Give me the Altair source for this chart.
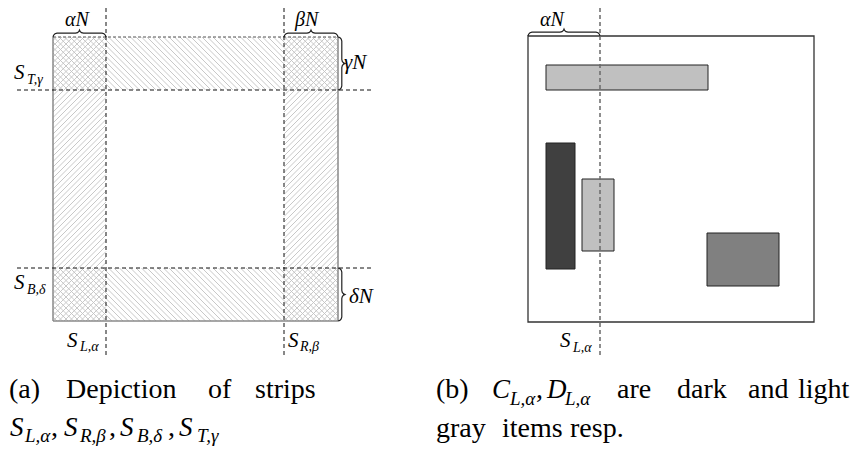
import altair as alt
import pandas as pd
import numpy as np

# ---------------- data (page pixel coordinates) ----------------
# left panel: square and strip boundaries
sq_left = [53, 338, 37, 321]          # x0, x1, y0, y1
strip_names = ["S_L", "S_R", "S_T", "S_B"]
strip_x0 = [53, 284, 53, 53]
strip_x1 = [106, 338, 338, 338]
strip_y0 = [37, 37, 37, 268]
strip_y1 = [321, 321, 90, 321]
strip_hatch = ["/", "/", "\\", "\\"]

# dashed guide lines (left panel, black)
dash_x0 = [106, 284, 17, 17]
dash_x1 = [106, 284, 373, 373]
dash_y0 = [8, 8, 90, 268]
dash_y1 = [357, 357, 90, 268]

# dashed guide line (right panel, gray)
gdash_x0 = [600]
gdash_x1 = [600]
gdash_y0 = [8]
gdash_y1 = [357]

# right panel square
sq_right = [528, 814, 36, 322]

# right panel items
item_x0 = [546, 546, 582, 707]
item_x1 = [708, 575, 614, 779]
item_y0 = [65, 143, 179, 233]
item_y1 = [90, 269, 251, 286]
item_fill = ["#c0c0c0", "#404040", "#c0c0c0", "#808080"]

# braces: start, end, base, orientation ("up" or "right")
brace_a = [53, 284, 37, 268, 528]
brace_b = [106, 338, 90, 321, 600]
brace_base = [37, 37, 338, 338, 36]
brace_dir = ["up", "up", "right", "right", "up"]

# italic (math) text: string, x, baseline y, font size
it_text = ["αN", "βN", "γN", "δN",
           "S", "T,γ", "S", "B,δ", "S", "L,α", "S", "R,β",
           "αN", "S", "L,α",
           "S", "L,α", "S", "R,β", "S", "B,δ", "S", "T,γ",
           "C", "L,α", "D", "L,α"]
it_x = [65, 295, 344, 349,
        14, 27, 14, 27, 67, 80, 288, 300,
        540, 560, 573,
        10, 25, 64, 80, 120, 137, 179, 197,
        492, 510, 547, 565]
it_y = [26, 26, 69, 303,
        79, 84, 289, 294, 347, 351, 347, 351,
        26, 347, 352,
        436, 442, 436, 442, 436, 442, 436, 442,
        398, 405, 398, 405]
it_size = [20, 20, 21, 21,
           21, 14, 21, 14, 21, 14, 21, 14,
           20, 21, 14,
           27, 19, 27, 19, 27, 19, 27, 19,
           27, 19, 27, 19]

# roman text (captions)
rm_text = ["(a)", "Depiction", "of", "strips", ",", ",", ",",
           "(b)", ",", "are", "dark", "and", "light",
           "gray", "items", "resp."]
rm_x = [9, 66, 208, 255, 51, 109, 168,
        436, 536, 617, 677, 748, 798,
        436, 502, 570]
rm_y = [398, 398, 398, 398, 436, 436, 436,
        398, 398, 398, 398, 398, 398,
        437, 437, 437]
rm_size = [28] * len(rm_text)

# ---------------- scales ----------------
XS = alt.Scale(domain=[8, 853], nice=False, zero=False)
YS = alt.Scale(domain=[8, 447], nice=False, zero=False, reverse=True)


def X(f):
    return alt.X(f, type="quantitative", scale=XS, axis=None)


def Y(f):
    return alt.Y(f, type="quantitative", scale=YS, axis=None)


def X2(f):
    return alt.X2(f)


def Y2(f):
    return alt.Y2(f)


# ---------------- hatch pattern derived from the strips ----------------
STEP = 5.5
hx0, hy0, hx1, hy1 = [], [], [], []
for x0, x1, y0, y1, kind in zip(strip_x0, strip_x1, strip_y0, strip_y1, strip_hatch):
    if kind == "\\":  # y = x + c
        kmin = int(np.floor((y0 - x1) / STEP))
        kmax = int(np.ceil((y1 - x0) / STEP))
        for k in range(kmin, kmax + 1):
            c = k * STEP
            xa = max(x0, y0 - c)
            xb = min(x1, y1 - c)
            if xb - xa > 0.3:
                hx0.append(xa); hy0.append(xa + c); hx1.append(xb); hy1.append(xb + c)
    else:  # y = -x + c
        kmin = int(np.floor((x0 + y0) / STEP))
        kmax = int(np.ceil((x1 + y1) / STEP))
        for k in range(kmin, kmax + 1):
            c = k * STEP
            xa = max(x0, c - y1)
            xb = min(x1, c - y0)
            if xb - xa > 0.3:
                hx0.append(xa); hy0.append(c - xa); hx1.append(xb); hy1.append(c - xb)
hatch_df = pd.DataFrame({"x": hx0, "y": hy0, "x2": hx1, "y2": hy1})

hatch = alt.Chart(hatch_df).mark_rule(color="#c2c2c2", strokeWidth=0.9).encode(
    x=X("x"), y=Y("y"), x2=X2("x2"), y2=Y2("y2"))

# ---------------- left square outline ----------------
edge_df = pd.DataFrame({
    "x": [sq_left[0], sq_left[1], sq_left[0]],
    "x2": [sq_left[0], sq_left[1], sq_left[1]],
    "y": [sq_left[2], sq_left[2], sq_left[3]],
    "y2": [sq_left[3], sq_left[3], sq_left[3]],
})
edges = alt.Chart(edge_df).mark_rule(color="#8a8a8a", strokeWidth=1.5).encode(
    x=X("x"), y=Y("y"), x2=X2("x2"), y2=Y2("y2"))
top_df = pd.DataFrame({"x": [sq_left[0]], "x2": [sq_left[1]], "y": [sq_left[2]], "y2": [sq_left[2]]})
top_edge = alt.Chart(top_df).mark_rule(color="#555555", strokeWidth=1.2, strokeDash=[3, 2]).encode(
    x=X("x"), y=Y("y"), x2=X2("x2"), y2=Y2("y2"))

# ---------------- dashed guides ----------------
dash_df = pd.DataFrame({"x": dash_x0, "x2": dash_x1, "y": dash_y0, "y2": dash_y1})
dashes = alt.Chart(dash_df).mark_rule(color="#111111", strokeWidth=1, strokeDash=[4, 3]).encode(
    x=X("x"), y=Y("y"), x2=X2("x2"), y2=Y2("y2"))
gdash_df = pd.DataFrame({"x": gdash_x0, "x2": gdash_x1, "y": gdash_y0, "y2": gdash_y1})
gdashes = alt.Chart(gdash_df).mark_rule(color="#6a6a6a", strokeWidth=1.5, strokeDash=[4, 3]).encode(
    x=X("x"), y=Y("y"), x2=X2("x2"), y2=Y2("y2"))

# ---------------- right panel ----------------
rsq_df = pd.DataFrame({"x": [sq_right[0]], "x2": [sq_right[1]], "y": [sq_right[2]], "y2": [sq_right[3]]})
rsq = alt.Chart(rsq_df).mark_rect(fillOpacity=0, stroke="#333333", strokeWidth=1.3).encode(
    x=X("x"), y=Y("y"), x2=X2("x2"), y2=Y2("y2"))

items_df = pd.DataFrame({"x": item_x0, "x2": item_x1, "y": item_y0, "y2": item_y1, "fill": item_fill})
items = alt.Chart(items_df).mark_rect(stroke="#222222", strokeWidth=1).encode(
    x=X("x"), y=Y("y"), x2=X2("x2"), y2=Y2("y2"),
    color=alt.Color("fill:N", scale=None))

# ---------------- braces ----------------
rows = []
for i, (a, b, base, d) in enumerate(zip(brace_a, brace_b, brace_base, brace_dir)):
    L = b - a
    m = L / 2.0
    prof = [(0, 0), (0.6, 1.8), (2, 3.2), (4, 3.8), (m - 4, 3.8), (m - 2, 4.3),
            (m - 0.6, 5.6), (m, 7), (m + 0.6, 5.6), (m + 2, 4.3), (m + 4, 3.8),
            (L - 4, 3.8), (L - 2, 3.2), (L - 0.6, 1.8), (L, 0)]
    for k, (t, n) in enumerate(prof):
        if d == "up":
            rows.append({"b": i, "k": k, "x": a + t, "y": base - n})
        else:
            rows.append({"b": i, "k": k, "x": base + n, "y": a + t})
brace_df = pd.DataFrame(rows)
braces = alt.Chart(brace_df).mark_line(color="#222222", strokeWidth=1.2).encode(
    x=X("x"), y=Y("y"), detail="b:N", order="k:Q")

# ---------------- text ----------------
it_df = pd.DataFrame({"t": it_text, "x": it_x, "y": it_y, "s": it_size})
rm_df = pd.DataFrame({"t": rm_text, "x": rm_x, "y": rm_y, "s": rm_size})

it_layer = alt.Chart(it_df).mark_text(font="Liberation Serif", fontStyle="italic", align="left",
                                      baseline="alphabetic", color="#000000").encode(
    x=X("x"), y=Y("y"), text="t:N", size=alt.Size("s:Q", scale=None))
rm_layer = alt.Chart(rm_df).mark_text(font="Liberation Serif", align="left",
                                      baseline="alphabetic", color="#000000").encode(
    x=X("x"), y=Y("y"), text="t:N", size=alt.Size("s:Q", scale=None))

chart = alt.layer(hatch, edges, top_edge, dashes, rsq, items, gdashes, braces, it_layer, rm_layer).properties(
    width=845, height=439, padding=0, autosize=alt.AutoSizeParams(type="none")
).configure_view(stroke=None)

chart.save("out.html", embed_options={"renderer": "svg", "actions": False})
